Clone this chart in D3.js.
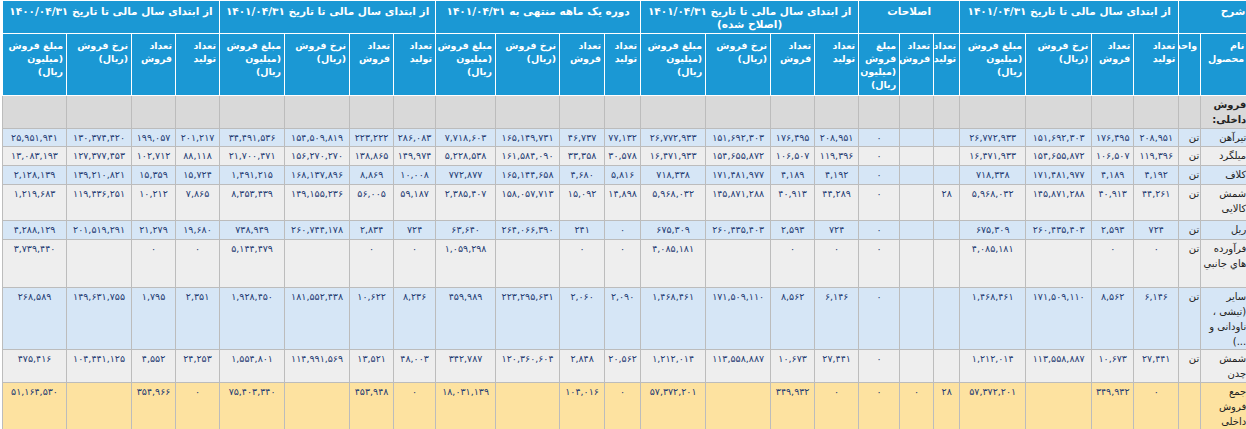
<!DOCTYPE html>
<html><head><meta charset="utf-8">
<script src="https://cdn.jsdelivr.net/npm/d3@7"></script>
<style>
body{margin:0;background:#fff;font-family:"DejaVu Sans",sans-serif;}
table{direction:rtl;border-collapse:collapse;table-layout:fixed;margin-left:2px;width:1244px;font-size:10px;}
th{background:#1b98d4;color:#fff;font-weight:bold;border:1px solid #fff;text-align:right;vertical-align:top;padding:5px 3px 0 1px;line-height:13px;font-size:9.5px;overflow:hidden;}
th.grp{text-align:center;font-size:10.5px;padding:4px 2px 0;white-space:nowrap;vertical-align:top;}
td{border:1px solid #bcbcbc;color:#1f3b73;text-align:center;vertical-align:top;padding:1px 1px 0;line-height:15px;white-space:nowrap;font-size:9.5px;}
td.name{text-align:right;color:#222;white-space:normal;font-size:10px;}
tr.blue td{background:#d6e6f6;} tr.gray td{background:#eeeeee;}
tr.sec td{background:#d9d9d9;} tr.tot td{background:#fde2a0;}
</style></head><body>
<div id="chart"></div>
<script>
// column widths, right to left
const colWidths = [47,22, 45,42,66,66, 26,34,41, 44,44,65,65, 36,45,64,60, 42,44,65,65, 44,44,65,64];

const groups = ["از ابتدای سال مالی تا تاریخ ۱۴۰۱/۰۴/۳۱", "اصلاحات",
  "از ابتدای سال مالی تا تاریخ ۱۴۰۱/۰۴/۳۱\n(اصلاح شده)", "دوره یک ماهه منتهی به ۱۴۰۱/۰۴/۳۱",
  "از ابتدای سال مالی تا تاریخ ۱۴۰۱/۰۴/۳۱", "از ابتدای سال مالی تا تاریخ ۱۴۰۰/۰۴/۳۱"];
const subHeads4 = ["تعداد تولید","تعداد فروش","نرخ فروش (ریال)","مبلغ فروش (میلیون ریال)"];
const subHeadsFix = ["تعداد تولید","تعداد فروش","مبلغ فروش (میلیون ریال)"];

const products = ["تیرآهن","میلگرد","کلاف","شمش کالایی","ریل","فرآورده هاي جانبي","سایر (تیشی ، ناودانی و ...)","شمش چدن","جمع فروش داخلی"];
const units = ["تن","تن","تن","تن","تن","تن","تن","تن",""];
const rowHeights = [18,19,19,36,19,48,60,33,47];

const g1 = [[208951,176495,151692303,26772933],[119396,106507,154655872,16471933],[4192,4189,171481977,718338],[44261,40913,145871288,5968032],[724,2593,260435403,675309],[0,0,null,4085181],[6146,8562,171509110,1468461],[27441,10673,113558887,1212014],[0,349932,null,57372201]];
const adj = [[null,null,0],[null,null,0],[null,null,0],[28,null,0],[null,null,0],[null,null,0],[null,null,0],[null,null,0],[28,0,0]];
const g2 = [[208951,176495,151692303,26772933],[119396,106507,154655872,16471933],[4192,4189,171481977,718338],[44289,40913,145871288,5968032],[724,2593,260435403,675309],[0,0,null,4085181],[6146,8562,171509110,1468461],[27441,10673,113558887,1212014],[0,349932,null,57372201]];
const g3 = [[77132,46737,165149731,7718603],[30578,33358,161584090,5228538],[5816,4680,165144658,772877],[14898,15092,158057713,2385407],[0,241,264066390,63640],[0,0,null,1059298],[2090,2060,223295631,459989],[20562,2848,120360604,342787],[0,104016,null,18031139]];
const g4 = [[286083,223222,154509819,34491536],[149974,138865,156270270,21700471],[10008,8869,168137896,1491215],[59187,56005,149155236,8353439],[724,2834,260744178,738949],[0,0,null,5144479],[8236,10622,181552438,1928450],[48003,13521,114991569,1554801],[0,453948,null,75403340]];
const g5 = [[201217,199057,130374420,25951941],[88118,102712,127377453,13083193],[15724,15359,139210821,2128139],[7865,10212,119436251,1219683],[19680,21279,201519291,4288129],[0,0,null,3739440],[2351,1795,149631755,268589],[24253,4552,104441125,475416],[0,354966,null,51164530]];

const fa = d => String(d).replace(/\d/g, c => "۰۱۲۳۴۵۶۷۸۹"[c]);
const fmt = v => v == null ? "" : fa(d3.format(",")(v));

const table = d3.select("#chart").append("table");
table.append("colgroup").selectAll("col").data(colWidths).join("col").style("width", d => d + "px");
const thead = table.append("thead");
const h1 = thead.append("tr").style("height","33px");
h1.append("th").attr("colspan",2).attr("class","grp").style("text-align","right").text("شرح");
h1.selectAll("th.g").data(groups).join("th").attr("class","grp g")
  .attr("colspan",(d,i) => i == 1 ? 3 : 4)
  .html(d => d.split("\n").join("<br>"));
const h2 = thead.append("tr").style("height","62px");
const sub = ["نام محصول","واحد"].concat(subHeads4, subHeadsFix, subHeads4, subHeads4, subHeads4, subHeads4);
h2.selectAll("th").data(sub).join("th").text(d => d);

const tbody = table.append("tbody");
const sec = tbody.append("tr").attr("class","sec").style("height","33px");
sec.selectAll("td").data(colWidths).join("td").attr("class",(d,i)=> i==0?"name":null)
  .style("font-weight","bold").text((d,i) => i == 0 ? "فروش داخلی:" : "");

products.forEach((p, r) => {
  const cls = r == 8 ? "tot" : (r % 2 == 0 ? "blue" : "gray");
  const tr = tbody.append("tr").attr("class", cls).style("height", rowHeights[r] + "px");
  tr.append("td").attr("class","name").text(p);
  tr.append("td").attr("class","name").text(units[r]);
  const vals = [].concat(g1[r], adj[r], g2[r], g3[r], g4[r], g5[r]);
  tr.selectAll("td.v").data(vals).join("td").attr("class","v").text(fmt);
});
</script>
</body></html>
